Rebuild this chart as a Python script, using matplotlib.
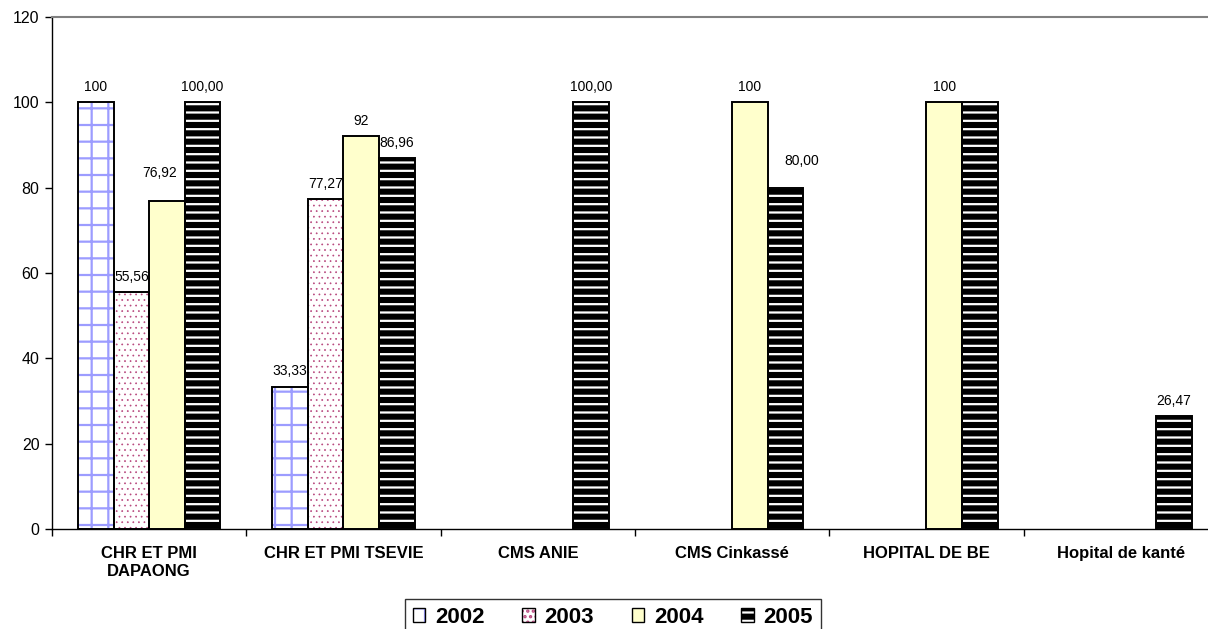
import numpy as np
import matplotlib
matplotlib.use("Agg")
import matplotlib.pyplot as plt
from matplotlib.patches import Patch

plt.rcParams['font.family'] = ['Liberation Sans', 'DejaVu Sans']
plt.rcParams['hatch.linewidth'] = 1.6

categories = ["CHR ET PMI\nDAPAONG", "CHR ET PMI TSEVIE", "CMS ANIE",
              "CMS Cinkassé", "HOPITAL DE BE", "Hopital de kanté"]
series_names = ["2002", "2003", "2004", "2005"]
v2002 = [100, 33.33, None, None, None, None]
v2003 = [55.56, 77.27, None, None, None, None]
v2004 = [76.92, 92, None, 100, 100, None]
v2005 = [100.00, 86.96, 100.00, 80.00, 100, 26.47]
label_fmt = ["{:g}", "{:g}", "{:g}", "{:.2f}"]
# value labels shown in the reference (HOPITAL DE BE 2005 has none)
show_label = [
    [True] * 6,
    [True] * 6,
    [True] * 6,
    [True, True, True, True, False, True],
]
yticks = [0, 20, 40, 60, 80, 100, 120]

# styles: (facecolor, hatchcolor, hatch, hatch linewidth)
styles = [
    ("white", "#9c9cff", "+", 1.6),
    ("white", "#b8487e", "...", 0.5),
    ("#ffffcc", "#ffffcc", "", 1.0),
    ("black", "white", "--", 1.6),
]
# label placement tweaks (series, category) -> extra offset in points
label_nudge = {(2, 0): (-5, 9), (3, 3): (12, 8)}

fig = plt.figure(figsize=(12.08, 6.29), dpi=100)
ax = fig.add_axes([52 / 1208, 100 / 629, 1166 / 1208, 512 / 629])

x = np.arange(len(categories))
w = 0.183
all_vals = [v2002, v2003, v2004, v2005]
handles = []
for j, vals in enumerate(all_vals):
    fc, hc, hatch, hlw = styles[j]
    idx = [i for i, v in enumerate(vals) if v is not None]
    xs = x[idx] + (j - 1.5) * w
    hs = [vals[i] for i in idx]
    with plt.rc_context({'hatch.linewidth': hlw}):
        ax.bar(xs, hs, width=w, facecolor=fc, edgecolor=hc, hatch=hatch,
               linewidth=0, zorder=2)
        hp = Patch(facecolor=fc, edgecolor=hc, hatch=hatch, linewidth=0)
    ax.bar(xs, hs, width=w, fill=False, edgecolor="black", linewidth=1.4,
           zorder=3)
    for xi, i in zip(xs, idx):
        if show_label[j][i]:
            txt = label_fmt[j].format(vals[i]).replace(".", ",")
            dx, dy = label_nudge.get((j, i), (0, 0))
            ax.annotate(txt, (xi, vals[i]), xytext=(dx, 6 + dy),
                        textcoords="offset points", ha="center", va="bottom",
                        fontsize=10, color="black", zorder=4)
    handles.append((hp, Patch(fill=False, edgecolor="black", linewidth=1.0)))

ax.set_xlim(-0.5, len(categories) - 0.5)
ax.set_ylim(0, 120)
ax.set_yticks(yticks)
ax.set_yticklabels([str(t) for t in yticks], fontsize=11.5)
ax.tick_params(axis="y", direction="out", length=5, width=1, pad=4)

ax.set_xticks(np.arange(len(categories) + 1) - 0.5)
ax.set_xticklabels([])
ax.tick_params(axis="x", which="major", direction="out", length=5, width=1)
ax.set_xticks(x, minor=True)
ax.set_xticklabels(categories, minor=True, fontsize=12, fontweight="bold",
                   linespacing=1.25)
ax.tick_params(axis="x", which="minor", length=0, pad=12)

for s in ["left", "bottom"]:
    ax.spines[s].set_color("black")
    ax.spines[s].set_linewidth(1.0)
ax.spines["top"].set_color("#808080")
ax.spines["top"].set_linewidth(1.5)
ax.spines["right"].set_visible(False)

leg = fig.legend(handles, series_names, loc="upper center",
                 bbox_to_anchor=(613 / 1208, 1 - 599 / 629), ncol=4,
                 prop={"family": ["Liberation Sans", "DejaVu Sans"],
                       "weight": "bold", "size": 16},
                 frameon=True, fancybox=False, shadow=False,
                 handlelength=0.55, handleheight=0.55, handletextpad=0.45,
                 columnspacing=1.7, borderpad=0.35, borderaxespad=0)
leg.get_frame().set_edgecolor("black")
leg.get_frame().set_linewidth(1.0)

fig.savefig("out.png", dpi=100)
